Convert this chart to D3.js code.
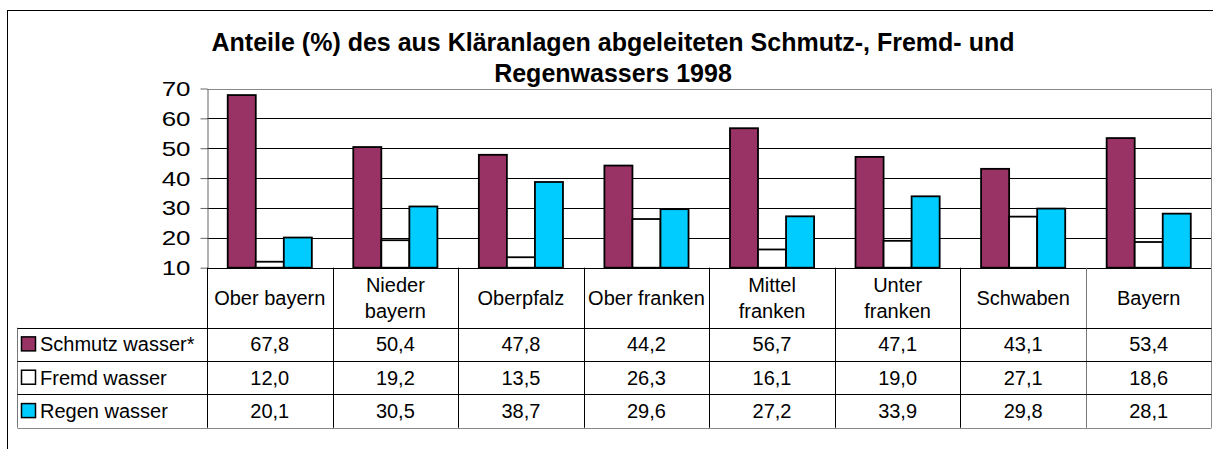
<!DOCTYPE html>
<html><head><meta charset="utf-8">
<script src="https://cdn.jsdelivr.net/npm/d3@7"></script>
<style>
html,body{margin:0;padding:0;background:#fff;}
svg{display:block;font-family:"Liberation Sans",Arial,sans-serif;}
</style></head>
<body>
<script>
const titleLines = ["Anteile (%) des aus Kläranlagen abgeleiteten Schmutz-, Fremd- und", "Regenwassers 1998"];
const categories = ["Ober bayern", "Nieder\nbayern", "Oberpfalz", "Ober franken", "Mittel\nfranken", "Unter\nfranken", "Schwaben", "Bayern"];
const seriesNames = ["Schmutz wasser*", "Fremd wasser", "Regen wasser"];
const seriesColors = ["#993366", "#ffffff", "#00ccff"];
const schmutz = [67.8, 50.4, 47.8, 44.2, 56.7, 47.1, 43.1, 53.4];
const fremd = [12.0, 19.2, 13.5, 26.3, 16.1, 19.0, 27.1, 18.6];
const regen = [20.1, 30.5, 38.7, 29.6, 27.2, 33.9, 29.8, 28.1];
const yTicks = [10, 20, 30, 40, 50, 60, 70];

const seriesValues = [schmutz, fremd, regen];
const W = 1213, H = 449;
const svg = d3.select("body").append("svg").attr("width", W).attr("height", H);

// outer chart border
svg.append("rect").attr("x", 7.5).attr("y", 10.5).attr("width", W).attr("height", H)
  .attr("fill", "none").attr("stroke", "#000").attr("stroke-width", 1);

// title
svg.append("g").selectAll("text").data(titleLines).join("text")
  .attr("x", 613).attr("y", (d, i) => 51 + i * 31)
  .attr("text-anchor", "middle").attr("font-weight", "bold").attr("font-size", 25)
  .attr("fill", "#000").text(d => d);

const plotL = 207, plotR = 1211.5, plotT = 88.5, plotB = 267.7;
const x = d3.scaleBand().domain(categories).range([plotL, plotR]);
const y = d3.scaleLinear().domain([10, 70]).range([plotB, plotT]);
const gp = x.bandwidth() * 0.165;
const xs = d3.scaleBand().domain(seriesNames).range([gp, x.bandwidth() - gp]);

// gridlines
svg.append("g").selectAll("line").data(yTicks).join("line")
  .attr("x1", plotL).attr("x2", plotR)
  .attr("y1", d => Math.round(y(d)) + 0.5).attr("y2", d => Math.round(y(d)) + 0.5)
  .attr("stroke", d => d === 70 ? "#888" : "#000").attr("stroke-width", 1);
// right plot border
svg.append("line").attr("x1", plotR).attr("x2", plotR).attr("y1", y(70)).attr("y2", plotB)
  .attr("stroke", "#888");

// y axis
const yAxis = svg.append("g").attr("transform", `translate(${plotL + 0.5},0)`)
  .call(d3.axisLeft(y).tickValues(yTicks).tickSize(7).tickSizeOuter(0).tickPadding(0));
yAxis.select(".domain").attr("stroke", "#666");
yAxis.selectAll(".tick line").attr("stroke", "#666");
yAxis.selectAll(".tick text").attr("font-size", 19.5).attr("fill", "#000")
  .attr("font-family", "Liberation Sans, Arial, sans-serif")
  .attr("x", 0).attr("dy", "0.36em")
  .attr("transform", "translate(-17,0) scale(1.33,1)").attr("text-anchor", "end");

// bars
const groups = svg.append("g").selectAll("g").data(categories).join("g")
  .attr("transform", d => `translate(${x(d)},0)`);
groups.selectAll("rect").data((c, ci) => seriesNames.map((s, si) => ({ s, si, v: seriesValues[si][ci] })))
  .join("rect")
  .attr("x", d => xs(d.s)).attr("width", xs.bandwidth())
  .attr("y", d => y(d.v)).attr("height", d => y(10) - y(d.v))
  .attr("fill", d => seriesColors[d.si]).attr("stroke", "#000").attr("stroke-width", 1.8);

// data table
const tableL = 17.5, headB = 327.7, rowH = 33.35;
const tg = svg.append("g");
tg.selectAll("line.hv").data(categories.slice(1)).join("line").attr("class", "hv")
  .attr("x1", d => Math.round(x(d)) + 0.5).attr("x2", d => Math.round(x(d)) + 0.5)
  .attr("y1", plotB).attr("y2", headB + 3 * rowH)
  .attr("stroke", (d, i) => i === 6 ? "#777" : "#000");
tg.append("line").attr("x1", plotL + 0.5).attr("x2", plotL + 0.5).attr("y1", plotB).attr("y2", headB + 3 * rowH).attr("stroke", "#000");
tg.append("line").attr("x1", plotR).attr("x2", plotR).attr("y1", plotB).attr("y2", headB + 3 * rowH).attr("stroke", "#888");
tg.append("line").attr("x1", tableL).attr("x2", tableL).attr("y1", headB).attr("y2", headB + 3 * rowH).attr("stroke", "#777");
tg.selectAll("line.hh").data([0, 1, 2, 3]).join("line").attr("class", "hh")
  .attr("x1", tableL).attr("x2", plotR)
  .attr("y1", d => Math.round(headB + d * rowH) + 0.5).attr("y2", d => Math.round(headB + d * rowH) + 0.5)
  .attr("stroke", d => d === 3 ? "#888" : "#000");

// header labels
groups.append("text").attr("text-anchor", "middle").attr("font-size", 20).attr("fill", "#000")
  .attr("x", x.bandwidth() / 2)
  .each(function (d) {
    const lines = d.split("\n");
    const cy = (plotB + headB) / 2;
    d3.select(this).selectAll("tspan").data(lines).join("tspan")
      .attr("x", x.bandwidth() / 2)
      .attr("y", (l, i) => cy + 7 + (i - (lines.length - 1) / 2) * 26)
      .text(l => l);
  });

// rows
const fmt = v => d3.format(".1f")(v).replace(".", ",");
seriesNames.forEach((s, si) => {
  const cy = headB + rowH * (si + 0.5);
  tg.append("rect").attr("x", 21.5).attr("y", cy - 7.5).attr("width", 14).attr("height", 14)
    .attr("fill", seriesColors[si]).attr("stroke", "#000").attr("stroke-width", 1.5);
  tg.append("text").attr("x", 40).attr("y", cy + 7).attr("font-size", 20).attr("fill", "#000").text(s);
  tg.append("g").selectAll("text").data(seriesValues[si]).join("text")
    .attr("x", (v, ci) => x(categories[ci]) + x.bandwidth() / 2).attr("y", cy + 7)
    .attr("text-anchor", "middle").attr("font-size", 20).attr("fill", "#000").text(v => fmt(v));
});
</script>
</body></html>
